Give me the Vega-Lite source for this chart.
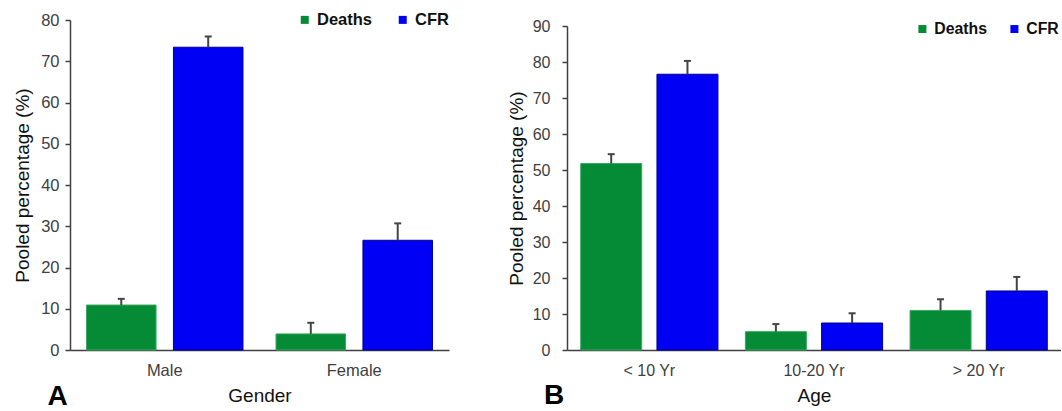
{
  "$schema": "https://vega.github.io/schema/vega-lite/v6.json",
  "padding": {"left": 13, "top": 11, "right": 0, "bottom": 0},
  "spacing": 57,
  "config": {
    "font": "Liberation Sans",
    "view": {"stroke": null},
    "axis": {"grid": false, "domainColor": "#404040", "domainWidth": 1.5, "tickColor": "#404040", "tickWidth": 1.5, "labelColor": "#404040", "titleColor": "#111111", "titleFontWeight": "normal", "titleFont": "Liberation Sans", "labelFont": "Liberation Sans"}
  },
  "datasets": {
    "gender": [
      {"group": "Male", "series": "Deaths", "value": 10.9, "hi": 12.4},
      {"group": "Male", "series": "CFR", "value": 73.4, "hi": 76.0},
      {"group": "Female", "series": "Deaths", "value": 3.9, "hi": 6.6},
      {"group": "Female", "series": "CFR", "value": 26.6, "hi": 30.7}
    ],
    "age": [
      {"group": "< 10 Yr", "series": "Deaths", "value": 51.8, "hi": 54.4},
      {"group": "< 10 Yr", "series": "CFR", "value": 76.6, "hi": 80.3},
      {"group": "10-20 Yr", "series": "Deaths", "value": 5.1, "hi": 7.2},
      {"group": "10-20 Yr", "series": "CFR", "value": 7.5, "hi": 10.2},
      {"group": "> 20 Yr", "series": "Deaths", "value": 11.0, "hi": 14.1},
      {"group": "> 20 Yr", "series": "CFR", "value": 16.4, "hi": 20.3}
    ]
  },
  "hconcat": [
    {
      "width": 379,
      "height": 330,
      "data": {"name": "gender"},
      "title": {"text": "A", "orient": "bottom", "anchor": "start", "frame": "group", "fontSize": 28, "fontWeight": "bold", "font": "Liberation Sans", "color": "#000000", "offset": -23, "dx": -22.5},
      "encoding": {
        "x": {"field": "group", "type": "nominal", "sort": ["Male", "Female"], "scale": {"paddingInner": 0, "paddingOuter": 0},
          "axis": {"title": "Gender", "labelAngle": 0, "ticks": false, "labelFontSize": 16.5, "labelPadding": 12, "titleFontSize": 19, "titlePadding": 8}},
        "xOffset": {"field": "series", "type": "nominal", "sort": ["Deaths", "CFR"], "scale": {"paddingInner": 0.2, "paddingOuter": 0.19}}
      },
      "layer": [
        {
          "mark": {"type": "bar", "strokeWidth": 1},
          "encoding": {
            "y": {"field": "value", "type": "quantitative", "scale": {"domain": [0, 80]},
              "axis": {"title": "Pooled percentage (%)", "values": [0, 10, 20, 30, 40, 50, 60, 70, 80], "tickSize": 5, "labelFontSize": 16.5, "labelPadding": 6, "titleFontSize": 19, "titlePadding": 8}},
            "color": {"field": "series", "type": "nominal", "sort": ["Deaths", "CFR"], "scale": {"domain": ["Deaths", "CFR"], "range": ["#058a35", "#0000f5"]},
              "legend": {"title": null, "orient": "none", "direction": "horizontal", "legendX": 226.5, "legendY": -8.5, "symbolType": "square", "symbolSize": 64, "symbolStrokeWidth": 0, "labelFontSize": 16.5, "labelFontWeight": "bold", "labelColor": "#111111", "labelOffset": 4, "columnPadding": 22, "padding": 0}},
            "stroke": {"field": "series", "type": "nominal", "scale": {"domain": ["Deaths", "CFR"], "range": ["#3aa860", "#00008a"]}, "legend": null}
          }
        },
        {
          "mark": {"type": "rule", "strokeWidth": 2, "color": "#444444"},
          "encoding": {"y": {"field": "value", "type": "quantitative"}, "y2": {"field": "hi"}}
        },
        {
          "mark": {"type": "tick", "orient": "horizontal", "thickness": 2, "size": 7, "color": "#444444", "opacity": 1},
          "encoding": {"y": {"field": "hi", "type": "quantitative"}}
        }
      ]
    },
    {
      "width": 494,
      "height": 330,
      "data": {"name": "age"},
      "title": {"text": "B", "orient": "bottom", "anchor": "start", "frame": "group", "fontSize": 28, "fontWeight": "bold", "font": "Liberation Sans", "color": "#000000", "offset": -23, "dx": -23},
      "encoding": {
        "x": {"field": "group", "type": "nominal", "sort": ["< 10 Yr", "10-20 Yr", "> 20 Yr"], "scale": {"paddingInner": 0, "paddingOuter": 0},
          "axis": {"title": "Age", "labelAngle": 0, "ticks": false, "labelFontSize": 16, "labelPadding": 12, "titleFontSize": 19, "titlePadding": 8}},
        "xOffset": {"field": "series", "type": "nominal", "sort": ["Deaths", "CFR"], "scale": {"paddingInner": 0.2, "paddingOuter": 0.18}}
      },
      "layer": [
        {
          "mark": {"type": "bar", "strokeWidth": 1},
          "encoding": {
            "y": {"field": "value", "type": "quantitative", "scale": {"domain": [0, 90], "range": [330, 6], "nice": false},
              "axis": {"title": "Pooled percentage (%)", "values": [0, 10, 20, 30, 40, 50, 60, 70, 80, 90], "tickCount": 10, "labelOverlap": false, "tickSize": 5, "labelFontSize": 16, "labelPadding": 12, "titleFontSize": 19, "titlePadding": 6}},
            "color": {"field": "series", "type": "nominal", "sort": ["Deaths", "CFR"], "scale": {"domain": ["Deaths", "CFR"], "range": ["#058a35", "#0000f5"]},
              "legend": {"title": null, "orient": "none", "direction": "horizontal", "legendX": 347.5, "legendY": 1, "symbolType": "square", "symbolSize": 64, "symbolStrokeWidth": 0, "labelFontSize": 15.8, "labelFontWeight": "bold", "labelColor": "#111111", "labelOffset": 4, "columnPadding": 19, "padding": 0}},
            "stroke": {"field": "series", "type": "nominal", "scale": {"domain": ["Deaths", "CFR"], "range": ["#3aa860", "#00008a"]}, "legend": null}
          }
        },
        {
          "mark": {"type": "rule", "strokeWidth": 2, "color": "#444444"},
          "encoding": {"y": {"field": "value", "type": "quantitative", "axis": {"title": "Pooled percentage (%)", "values": [0, 10, 20, 30, 40, 50, 60, 70, 80, 90], "tickCount": 10, "labelOverlap": false}}, "y2": {"field": "hi"}}
        },
        {
          "mark": {"type": "tick", "orient": "horizontal", "thickness": 2, "size": 7, "color": "#444444", "opacity": 1},
          "encoding": {"y": {"field": "hi", "type": "quantitative", "axis": {"title": "Pooled percentage (%)", "values": [0, 10, 20, 30, 40, 50, 60, 70, 80, 90], "tickCount": 10, "labelOverlap": false}}}
        }
      ]
    }
  ],
  "resolve": {"scale": {"y": "independent", "x": "independent", "color": "independent", "stroke": "independent", "xOffset": "independent"}, "legend": {"color": "independent"}}
}
